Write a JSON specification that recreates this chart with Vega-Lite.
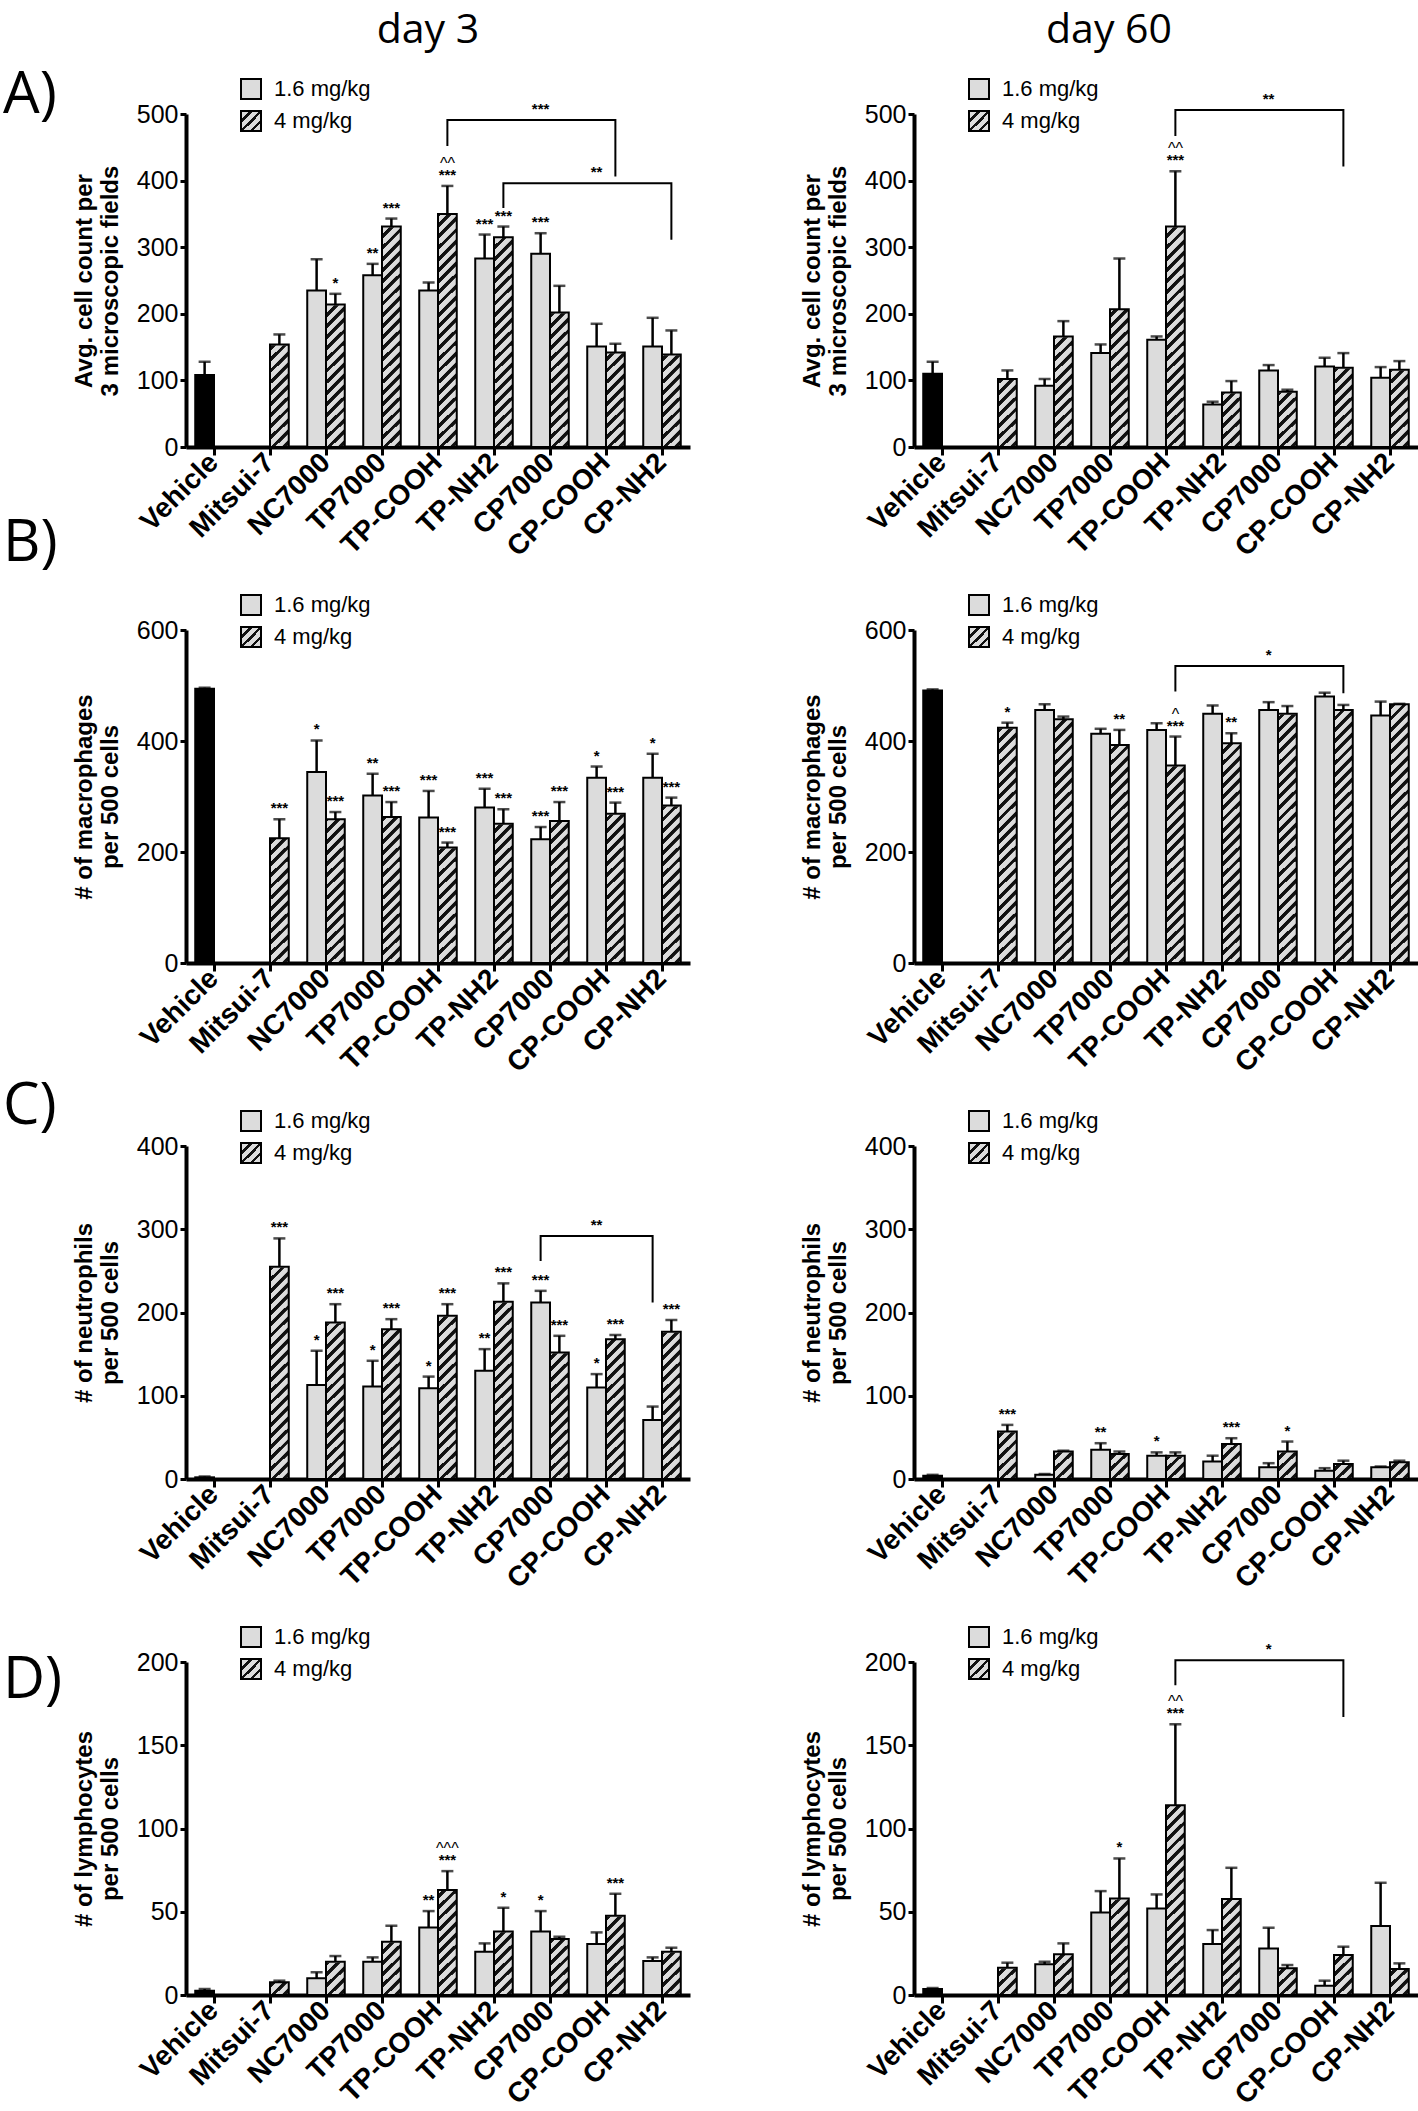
{
"$schema": "https://vega.github.io/schema/vega-lite/v6.json",
"padding": {"left": 3, "top": 10, "right": 0, "bottom": 5},
"params": [
 {"name": "hatchBar", "value": {"gradient": "radial", "x1": -29.5, "y1": -29.5, "r1": 42.0, "x2": -29.5, "y2": -29.5, "r2": 42.85, "stops": [
  {"offset":0,"color":"#111"},{"offset":0.012,"color":"#111"},{"offset":0.012,"color":"#dcdcdc"},
  {"offset":0.028,"color":"#dcdcdc"},{"offset":0.028,"color":"#111"},{"offset":0.04,"color":"#111"},{"offset":0.04,"color":"#dcdcdc"},
  {"offset":0.056,"color":"#dcdcdc"},{"offset":0.056,"color":"#111"},{"offset":0.068,"color":"#111"},{"offset":0.068,"color":"#dcdcdc"},
  {"offset":0.084,"color":"#dcdcdc"},{"offset":0.084,"color":"#111"},{"offset":0.096,"color":"#111"},{"offset":0.096,"color":"#dcdcdc"},
  {"offset":0.112,"color":"#dcdcdc"},{"offset":0.112,"color":"#111"},{"offset":0.124,"color":"#111"},{"offset":0.124,"color":"#dcdcdc"},
  {"offset":0.14,"color":"#dcdcdc"},{"offset":0.14,"color":"#111"},{"offset":0.152,"color":"#111"},{"offset":0.152,"color":"#dcdcdc"},
  {"offset":0.168,"color":"#dcdcdc"},{"offset":0.168,"color":"#111"},{"offset":0.18,"color":"#111"},{"offset":0.18,"color":"#dcdcdc"},
  {"offset":0.196,"color":"#dcdcdc"},{"offset":0.196,"color":"#111"},{"offset":0.208,"color":"#111"},{"offset":0.208,"color":"#dcdcdc"},
  {"offset":0.224,"color":"#dcdcdc"},{"offset":0.224,"color":"#111"},{"offset":0.236,"color":"#111"},{"offset":0.236,"color":"#dcdcdc"},
  {"offset":0.252,"color":"#dcdcdc"},{"offset":0.252,"color":"#111"},{"offset":0.264,"color":"#111"},{"offset":0.264,"color":"#dcdcdc"},
  {"offset":0.28,"color":"#dcdcdc"},{"offset":0.28,"color":"#111"},{"offset":0.292,"color":"#111"},{"offset":0.292,"color":"#dcdcdc"},
  {"offset":0.308,"color":"#dcdcdc"},{"offset":0.308,"color":"#111"},{"offset":0.32,"color":"#111"},{"offset":0.32,"color":"#dcdcdc"},
  {"offset":0.336,"color":"#dcdcdc"},{"offset":0.336,"color":"#111"},{"offset":0.348,"color":"#111"},{"offset":0.348,"color":"#dcdcdc"},
  {"offset":0.364,"color":"#dcdcdc"},{"offset":0.364,"color":"#111"},{"offset":0.376,"color":"#111"},{"offset":0.376,"color":"#dcdcdc"},
  {"offset":0.392,"color":"#dcdcdc"},{"offset":0.392,"color":"#111"},{"offset":0.404,"color":"#111"},{"offset":0.404,"color":"#dcdcdc"},
  {"offset":0.42,"color":"#dcdcdc"},{"offset":0.42,"color":"#111"},{"offset":0.432,"color":"#111"},{"offset":0.432,"color":"#dcdcdc"},
  {"offset":0.448,"color":"#dcdcdc"},{"offset":0.448,"color":"#111"},{"offset":0.46,"color":"#111"},{"offset":0.46,"color":"#dcdcdc"},
  {"offset":0.476,"color":"#dcdcdc"},{"offset":0.476,"color":"#111"},{"offset":0.488,"color":"#111"},{"offset":0.488,"color":"#dcdcdc"},
  {"offset":0.504,"color":"#dcdcdc"},{"offset":0.504,"color":"#111"},{"offset":0.516,"color":"#111"},{"offset":0.516,"color":"#dcdcdc"},
  {"offset":0.532,"color":"#dcdcdc"},{"offset":0.532,"color":"#111"},{"offset":0.544,"color":"#111"},{"offset":0.544,"color":"#dcdcdc"},
  {"offset":0.56,"color":"#dcdcdc"},{"offset":0.56,"color":"#111"},{"offset":0.572,"color":"#111"},{"offset":0.572,"color":"#dcdcdc"},
  {"offset":0.588,"color":"#dcdcdc"},{"offset":0.588,"color":"#111"},{"offset":0.6,"color":"#111"},{"offset":0.6,"color":"#dcdcdc"},
  {"offset":0.616,"color":"#dcdcdc"},{"offset":0.616,"color":"#111"},{"offset":0.628,"color":"#111"},{"offset":0.628,"color":"#dcdcdc"},
  {"offset":0.644,"color":"#dcdcdc"},{"offset":0.644,"color":"#111"},{"offset":0.656,"color":"#111"},{"offset":0.656,"color":"#dcdcdc"},
  {"offset":0.672,"color":"#dcdcdc"},{"offset":0.672,"color":"#111"},{"offset":0.684,"color":"#111"},{"offset":0.684,"color":"#dcdcdc"},
  {"offset":0.7,"color":"#dcdcdc"},{"offset":0.7,"color":"#111"},{"offset":0.712,"color":"#111"},{"offset":0.712,"color":"#dcdcdc"},
  {"offset":0.728,"color":"#dcdcdc"},{"offset":0.728,"color":"#111"},{"offset":0.74,"color":"#111"},{"offset":0.74,"color":"#dcdcdc"},
  {"offset":0.756,"color":"#dcdcdc"},{"offset":0.756,"color":"#111"},{"offset":0.768,"color":"#111"},{"offset":0.768,"color":"#dcdcdc"},
  {"offset":0.784,"color":"#dcdcdc"},{"offset":0.784,"color":"#111"},{"offset":0.796,"color":"#111"},{"offset":0.796,"color":"#dcdcdc"},
  {"offset":0.812,"color":"#dcdcdc"},{"offset":0.812,"color":"#111"},{"offset":0.824,"color":"#111"},{"offset":0.824,"color":"#dcdcdc"},
  {"offset":0.84,"color":"#dcdcdc"},{"offset":0.84,"color":"#111"},{"offset":0.852,"color":"#111"},{"offset":0.852,"color":"#dcdcdc"},
  {"offset":0.868,"color":"#dcdcdc"},{"offset":0.868,"color":"#111"},{"offset":0.88,"color":"#111"},{"offset":0.88,"color":"#dcdcdc"},
  {"offset":0.896,"color":"#dcdcdc"},{"offset":0.896,"color":"#111"},{"offset":0.908,"color":"#111"},{"offset":0.908,"color":"#dcdcdc"},
  {"offset":0.924,"color":"#dcdcdc"},{"offset":0.924,"color":"#111"},{"offset":0.936,"color":"#111"},{"offset":0.936,"color":"#dcdcdc"},
  {"offset":0.952,"color":"#dcdcdc"},{"offset":0.952,"color":"#111"},{"offset":0.964,"color":"#111"},{"offset":0.964,"color":"#dcdcdc"},
  {"offset":0.98,"color":"#dcdcdc"},{"offset":0.98,"color":"#111"},{"offset":0.992,"color":"#111"},{"offset":0.992,"color":"#dcdcdc"}
 ]}},
 {"name": "hatchLegend", "value": {"gradient": "radial", "x1": -29.5, "y1": -29.5, "r1": 41.7, "x2": -29.5, "y2": -29.5, "r2": 43.2, "stops": [
  {"offset":0,"color":"#dcdcdc"},{"offset":0.208,"color":"#dcdcdc"},{"offset":0.208,"color":"#111"},{"offset":0.298,"color":"#111"},{"offset":0.298,"color":"#dcdcdc"},
  {"offset":0.442,"color":"#dcdcdc"},{"offset":0.442,"color":"#111"},{"offset":0.532,"color":"#111"},{"offset":0.532,"color":"#dcdcdc"},
  {"offset":0.675,"color":"#dcdcdc"},{"offset":0.675,"color":"#111"},{"offset":0.765,"color":"#111"},{"offset":0.765,"color":"#dcdcdc"},{"offset":1,"color":"#dcdcdc"}
 ]}}
],
"title": {"text": "A)", "anchor": "start", "frame": "group", "fontSize": 58, "dx": -183, "dy": 115, "offset": 0},
"datasets": {
 "A3": [
  {"cat":"Vehicle","dose":"1.6 mg/kg","v":108,"upper":128},
  {"cat":"Mitsui-7","dose":"4 mg/kg","v":154,"upper":169},
  {"cat":"NC7000","dose":"1.6 mg/kg","v":235,"upper":282},
  {"cat":"NC7000","dose":"4 mg/kg","v":214,"upper":230,"sig":"*"},
  {"cat":"TP7000","dose":"1.6 mg/kg","v":258,"upper":275,"sig":"**"},
  {"cat":"TP7000","dose":"4 mg/kg","v":331,"upper":343,"sig":"***"},
  {"cat":"TP-COOH","dose":"1.6 mg/kg","v":235,"upper":247},
  {"cat":"TP-COOH","dose":"4 mg/kg","v":350,"upper":392,"sig":"***","hat":"^^"},
  {"cat":"TP-NH2","dose":"1.6 mg/kg","v":283,"upper":319,"sig":"***"},
  {"cat":"TP-NH2","dose":"4 mg/kg","v":315,"upper":331,"sig":"***"},
  {"cat":"CP7000","dose":"1.6 mg/kg","v":290,"upper":321,"sig":"***"},
  {"cat":"CP7000","dose":"4 mg/kg","v":202,"upper":242},
  {"cat":"CP-COOH","dose":"1.6 mg/kg","v":151,"upper":185},
  {"cat":"CP-COOH","dose":"4 mg/kg","v":142,"upper":155},
  {"cat":"CP-NH2","dose":"1.6 mg/kg","v":151,"upper":194},
  {"cat":"CP-NH2","dose":"4 mg/kg","v":139,"upper":175}
 ],
 "A60": [
  {"cat":"Vehicle","dose":"1.6 mg/kg","v":110,"upper":128},
  {"cat":"Mitsui-7","dose":"4 mg/kg","v":102,"upper":115},
  {"cat":"NC7000","dose":"1.6 mg/kg","v":92,"upper":102},
  {"cat":"NC7000","dose":"4 mg/kg","v":166,"upper":189},
  {"cat":"TP7000","dose":"1.6 mg/kg","v":141,"upper":154},
  {"cat":"TP7000","dose":"4 mg/kg","v":207,"upper":283},
  {"cat":"TP-COOH","dose":"1.6 mg/kg","v":161,"upper":166},
  {"cat":"TP-COOH","dose":"4 mg/kg","v":331,"upper":414,"sig":"***","hat":"^^"},
  {"cat":"TP-NH2","dose":"1.6 mg/kg","v":64,"upper":68},
  {"cat":"TP-NH2","dose":"4 mg/kg","v":82,"upper":99},
  {"cat":"CP7000","dose":"1.6 mg/kg","v":115,"upper":123},
  {"cat":"CP7000","dose":"4 mg/kg","v":83,"upper":86},
  {"cat":"CP-COOH","dose":"1.6 mg/kg","v":121,"upper":134},
  {"cat":"CP-COOH","dose":"4 mg/kg","v":119,"upper":141},
  {"cat":"CP-NH2","dose":"1.6 mg/kg","v":104,"upper":120},
  {"cat":"CP-NH2","dose":"4 mg/kg","v":116,"upper":129}
 ],
 "B3": [
  {"cat":"Vehicle","dose":"1.6 mg/kg","v":494,"upper":496},
  {"cat":"Mitsui-7","dose":"4 mg/kg","v":225,"upper":259,"sig":"***"},
  {"cat":"NC7000","dose":"1.6 mg/kg","v":344,"upper":401,"sig":"*"},
  {"cat":"NC7000","dose":"4 mg/kg","v":259,"upper":272,"sig":"***"},
  {"cat":"TP7000","dose":"1.6 mg/kg","v":302,"upper":341,"sig":"**"},
  {"cat":"TP7000","dose":"4 mg/kg","v":263,"upper":290,"sig":"***"},
  {"cat":"TP-COOH","dose":"1.6 mg/kg","v":262,"upper":310,"sig":"***"},
  {"cat":"TP-COOH","dose":"4 mg/kg","v":208,"upper":217,"sig":"***"},
  {"cat":"TP-NH2","dose":"1.6 mg/kg","v":280,"upper":314,"sig":"***"},
  {"cat":"TP-NH2","dose":"4 mg/kg","v":251,"upper":277,"sig":"***"},
  {"cat":"CP7000","dose":"1.6 mg/kg","v":223,"upper":245,"sig":"***"},
  {"cat":"CP7000","dose":"4 mg/kg","v":256,"upper":290,"sig":"***"},
  {"cat":"CP-COOH","dose":"1.6 mg/kg","v":334,"upper":354,"sig":"*"},
  {"cat":"CP-COOH","dose":"4 mg/kg","v":269,"upper":289,"sig":"***"},
  {"cat":"CP-NH2","dose":"1.6 mg/kg","v":334,"upper":377,"sig":"*"},
  {"cat":"CP-NH2","dose":"4 mg/kg","v":284,"upper":298,"sig":"***"}
 ],
 "B60": [
  {"cat":"Vehicle","dose":"1.6 mg/kg","v":491,"upper":493},
  {"cat":"Mitsui-7","dose":"4 mg/kg","v":424,"upper":433,"sig":"*"},
  {"cat":"NC7000","dose":"1.6 mg/kg","v":456,"upper":466},
  {"cat":"NC7000","dose":"4 mg/kg","v":439,"upper":444},
  {"cat":"TP7000","dose":"1.6 mg/kg","v":413,"upper":422},
  {"cat":"TP7000","dose":"4 mg/kg","v":393,"upper":420,"sig":"**"},
  {"cat":"TP-COOH","dose":"1.6 mg/kg","v":420,"upper":432},
  {"cat":"TP-COOH","dose":"4 mg/kg","v":356,"upper":408,"sig":"***","hat":"^"},
  {"cat":"TP-NH2","dose":"1.6 mg/kg","v":449,"upper":464},
  {"cat":"TP-NH2","dose":"4 mg/kg","v":396,"upper":414,"sig":"**"},
  {"cat":"CP7000","dose":"1.6 mg/kg","v":456,"upper":470},
  {"cat":"CP7000","dose":"4 mg/kg","v":449,"upper":463},
  {"cat":"CP-COOH","dose":"1.6 mg/kg","v":480,"upper":487},
  {"cat":"CP-COOH","dose":"4 mg/kg","v":456,"upper":465},
  {"cat":"CP-NH2","dose":"1.6 mg/kg","v":446,"upper":471},
  {"cat":"CP-NH2","dose":"4 mg/kg","v":466,"upper":467}
 ],
 "C3": [
  {"cat":"Vehicle","dose":"1.6 mg/kg","v":2,"upper":3},
  {"cat":"Mitsui-7","dose":"4 mg/kg","v":255,"upper":289,"sig":"***"},
  {"cat":"NC7000","dose":"1.6 mg/kg","v":113,"upper":154,"sig":"*"},
  {"cat":"NC7000","dose":"4 mg/kg","v":188,"upper":210,"sig":"***"},
  {"cat":"TP7000","dose":"1.6 mg/kg","v":111,"upper":142,"sig":"*"},
  {"cat":"TP7000","dose":"4 mg/kg","v":180,"upper":192,"sig":"***"},
  {"cat":"TP-COOH","dose":"1.6 mg/kg","v":109,"upper":123,"sig":"*"},
  {"cat":"TP-COOH","dose":"4 mg/kg","v":196,"upper":210,"sig":"***"},
  {"cat":"TP-NH2","dose":"1.6 mg/kg","v":130,"upper":156,"sig":"**"},
  {"cat":"TP-NH2","dose":"4 mg/kg","v":213,"upper":235,"sig":"***"},
  {"cat":"CP7000","dose":"1.6 mg/kg","v":212,"upper":226,"sig":"***"},
  {"cat":"CP7000","dose":"4 mg/kg","v":152,"upper":172,"sig":"***"},
  {"cat":"CP-COOH","dose":"1.6 mg/kg","v":110,"upper":126,"sig":"*"},
  {"cat":"CP-COOH","dose":"4 mg/kg","v":168,"upper":173,"sig":"***"},
  {"cat":"CP-NH2","dose":"1.6 mg/kg","v":71,"upper":87},
  {"cat":"CP-NH2","dose":"4 mg/kg","v":177,"upper":191,"sig":"***"}
 ],
 "C60": [
  {"cat":"Vehicle","dose":"1.6 mg/kg","v":4,"upper":5},
  {"cat":"Mitsui-7","dose":"4 mg/kg","v":57,"upper":65,"sig":"***"},
  {"cat":"NC7000","dose":"1.6 mg/kg","v":5,"upper":6},
  {"cat":"NC7000","dose":"4 mg/kg","v":33,"upper":34},
  {"cat":"TP7000","dose":"1.6 mg/kg","v":35,"upper":43,"sig":"**"},
  {"cat":"TP7000","dose":"4 mg/kg","v":30,"upper":33},
  {"cat":"TP-COOH","dose":"1.6 mg/kg","v":28,"upper":32,"sig":"*"},
  {"cat":"TP-COOH","dose":"4 mg/kg","v":28,"upper":32},
  {"cat":"TP-NH2","dose":"1.6 mg/kg","v":21,"upper":28},
  {"cat":"TP-NH2","dose":"4 mg/kg","v":42,"upper":49,"sig":"***"},
  {"cat":"CP7000","dose":"1.6 mg/kg","v":14,"upper":19},
  {"cat":"CP7000","dose":"4 mg/kg","v":33,"upper":45,"sig":"*"},
  {"cat":"CP-COOH","dose":"1.6 mg/kg","v":10,"upper":13},
  {"cat":"CP-COOH","dose":"4 mg/kg","v":18,"upper":22},
  {"cat":"CP-NH2","dose":"1.6 mg/kg","v":14,"upper":15},
  {"cat":"CP-NH2","dose":"4 mg/kg","v":20,"upper":22}
 ],
 "D3": [
  {"cat":"Vehicle","dose":"1.6 mg/kg","v":2.6,"upper":3.6},
  {"cat":"Mitsui-7","dose":"4 mg/kg","v":7.6,"upper":8.6},
  {"cat":"NC7000","dose":"1.6 mg/kg","v":10,"upper":13.6},
  {"cat":"NC7000","dose":"4 mg/kg","v":20,"upper":23.4},
  {"cat":"TP7000","dose":"1.6 mg/kg","v":20,"upper":22.6},
  {"cat":"TP7000","dose":"4 mg/kg","v":32,"upper":41.6},
  {"cat":"TP-COOH","dose":"1.6 mg/kg","v":40.6,"upper":50.4,"sig":"**"},
  {"cat":"TP-COOH","dose":"4 mg/kg","v":63,"upper":74.4,"sig":"***","hat":"^^^"},
  {"cat":"TP-NH2","dose":"1.6 mg/kg","v":26,"upper":31},
  {"cat":"TP-NH2","dose":"4 mg/kg","v":38.2,"upper":52.4,"sig":"*"},
  {"cat":"CP7000","dose":"1.6 mg/kg","v":38.2,"upper":50.4,"sig":"*"},
  {"cat":"CP7000","dose":"4 mg/kg","v":33.6,"upper":35},
  {"cat":"CP-COOH","dose":"1.6 mg/kg","v":30.6,"upper":37.6},
  {"cat":"CP-COOH","dose":"4 mg/kg","v":47.6,"upper":60.8,"sig":"***"},
  {"cat":"CP-NH2","dose":"1.6 mg/kg","v":20.4,"upper":22.6},
  {"cat":"CP-NH2","dose":"4 mg/kg","v":26,"upper":28.4}
 ],
 "D60": [
  {"cat":"Vehicle","dose":"1.6 mg/kg","v":3.6,"upper":4.2},
  {"cat":"Mitsui-7","dose":"4 mg/kg","v":16.4,"upper":19.4},
  {"cat":"NC7000","dose":"1.6 mg/kg","v":18.4,"upper":20},
  {"cat":"NC7000","dose":"4 mg/kg","v":24.4,"upper":31},
  {"cat":"TP7000","dose":"1.6 mg/kg","v":49.6,"upper":62.4},
  {"cat":"TP7000","dose":"4 mg/kg","v":58,"upper":82,"sig":"*"},
  {"cat":"TP-COOH","dose":"1.6 mg/kg","v":52,"upper":60.4},
  {"cat":"TP-COOH","dose":"4 mg/kg","v":114,"upper":162.6,"sig":"***","hat":"^^"},
  {"cat":"TP-NH2","dose":"1.6 mg/kg","v":30.6,"upper":39},
  {"cat":"TP-NH2","dose":"4 mg/kg","v":57.6,"upper":76.4},
  {"cat":"CP7000","dose":"1.6 mg/kg","v":28,"upper":40.4},
  {"cat":"CP7000","dose":"4 mg/kg","v":16,"upper":18},
  {"cat":"CP-COOH","dose":"1.6 mg/kg","v":5.6,"upper":8.6},
  {"cat":"CP-COOH","dose":"4 mg/kg","v":24,"upper":29},
  {"cat":"CP-NH2","dose":"1.6 mg/kg","v":41.4,"upper":67.4},
  {"cat":"CP-NH2","dose":"4 mg/kg","v":15.6,"upper":19}
 ],
 "A3b": [
  {"id":1,"cat":"TP-COOH","dose":"4 mg/kg","v":452,"ord":1},
  {"id":1,"cat":"TP-COOH","dose":"4 mg/kg","v":491,"ord":2},
  {"id":1,"cat":"CP-COOH","dose":"4 mg/kg","v":491,"ord":3},
  {"id":1,"cat":"CP-COOH","dose":"4 mg/kg","v":406,"ord":4},
  {"id":2,"cat":"TP-NH2","dose":"4 mg/kg","v":359,"ord":1},
  {"id":2,"cat":"TP-NH2","dose":"4 mg/kg","v":396,"ord":2},
  {"id":2,"cat":"CP-NH2","dose":"4 mg/kg","v":396,"ord":3},
  {"id":2,"cat":"CP-NH2","dose":"4 mg/kg","v":311,"ord":4},
  {"cat":"CP7000","dose":"1.6 mg/kg","v":491,"lab":"***"},
  {"cat":"CP-COOH","dose":"1.6 mg/kg","v":396,"lab":"**"}
 ],
 "A60b": [
  {"id":1,"cat":"TP-COOH","dose":"4 mg/kg","v":467,"ord":1},
  {"id":1,"cat":"TP-COOH","dose":"4 mg/kg","v":506,"ord":2},
  {"id":1,"cat":"CP-COOH","dose":"4 mg/kg","v":506,"ord":3},
  {"id":1,"cat":"CP-COOH","dose":"4 mg/kg","v":421,"ord":4},
  {"cat":"CP7000","dose":"1.6 mg/kg","v":506,"lab":"**"}
 ],
 "B60b": [
  {"id":1,"cat":"TP-COOH","dose":"4 mg/kg","v":489,"ord":1},
  {"id":1,"cat":"TP-COOH","dose":"4 mg/kg","v":535,"ord":2},
  {"id":1,"cat":"CP-COOH","dose":"4 mg/kg","v":535,"ord":3},
  {"id":1,"cat":"CP-COOH","dose":"4 mg/kg","v":486,"ord":4},
  {"cat":"CP7000","dose":"1.6 mg/kg","v":535,"lab":"*"}
 ],
 "C3b": [
  {"id":1,"cat":"CP7000","dose":"1.6 mg/kg","v":262,"ord":1},
  {"id":1,"cat":"CP7000","dose":"1.6 mg/kg","v":292,"ord":2},
  {"id":1,"cat":"CP-NH2","dose":"1.6 mg/kg","v":292,"ord":3},
  {"id":1,"cat":"CP-NH2","dose":"1.6 mg/kg","v":212,"ord":4},
  {"cat":"CP-COOH","dose":"1.6 mg/kg","v":292,"lab":"**"}
 ],
 "D60b": [
  {"id":1,"cat":"TP-COOH","dose":"4 mg/kg","v":186,"ord":1},
  {"id":1,"cat":"TP-COOH","dose":"4 mg/kg","v":201,"ord":2},
  {"id":1,"cat":"CP-COOH","dose":"4 mg/kg","v":201,"ord":3},
  {"id":1,"cat":"CP-COOH","dose":"4 mg/kg","v":167,"ord":4},
  {"cat":"CP7000","dose":"1.6 mg/kg","v":201,"lab":"*"}
 ]
},
"columns": 2,
"spacing": {"row": 183, "column": 224},
"bounds": "flush",
"resolve": {"scale": {"fill": "independent"}, "legend": {"fill": "independent"}},
"concat": [
 {
  "title": {"text": "day 3", "fontSize": 41, "offset": 26, "dx": -10, "frame": "group"},
  "width": 504, "height": 333,
  "data": {"name": "A3"},
  "encoding": {
   "x": {"field":"cat","type":"nominal","title":null,"scale":{"domain":["Vehicle","Mitsui-7","NC7000","TP7000","TP-COOH","TP-NH2","CP7000","CP-COOH","CP-NH2"],"paddingInner":0.33,"paddingOuter":0.165}},
   "xOffset": {"field":"dose","type":"nominal","scale":{"domain":["1.6 mg/kg","4 mg/kg"]}},
   "y": {"field":"v","type":"quantitative","scale":{"domain":[0,500],"nice":false},"axis":{"values":[0,100,200,300,400,500],"title":["Avg. cell count per","3 microscopic fields"]}}
  },
  "layer": [
   {"transform":[{"filter":"datum.dose === '4 mg/kg'"}],"mark":{"type":"bar","fill":{"expr":"hatchBar"},"strokeWidth":0},"encoding":{"y":{"datum":0},"y2":{"datum":500}}},
   {"transform":[{"filter":"datum.dose === '4 mg/kg'"}],"mark":{"type":"bar","fill":"white","stroke":"white","strokeWidth":1.5},"encoding":{"y2":{"datum":500}}},
   {"mark":{"type":"bar","stroke":"black","strokeWidth":2},"encoding":{"y2":{"datum":0},"fill":{"field":"dose","type":"nominal","title":null,"scale":{"domain":["1.6 mg/kg","4 mg/kg"],"range":["#dcdcdc",{"expr":"hatchLegend"}]},"legend":{"orient":"none","legendX":54,"legendY":-36},"condition":[{"test":"datum.cat === 'Vehicle'","value":"black"},{"test":"datum.dose === '4 mg/kg'","value":"transparent"}]}}},
   {"mark":{"type":"rule","color":"black","strokeWidth":2.5},"encoding":{"y2":{"field":"upper"}}},
   {"mark":{"type":"tick","color":"black","thickness":2.5,"size":12},"encoding":{"y":{"field":"upper","type":"quantitative"}}},
   {"transform":[{"filter":"isValid(datum.sig)"}],"mark":{"type":"text","baseline":"bottom","dy":-3,"fontSize":15,"fontWeight":"bold"},"encoding":{"y":{"field":"upper","type":"quantitative"},"text":{"field":"sig"}}},
   {"transform":[{"filter":"isValid(datum.hat)"}],"mark":{"type":"text","baseline":"bottom","dy":-14,"fontSize":16},"encoding":{"y":{"field":"upper","type":"quantitative"},"text":{"field":"hat"}}},
   {"data":{"name":"A3b"},"transform":[{"filter":"isValid(datum.ord)"}],"mark":{"type":"line","color":"black","strokeWidth":2},"encoding":{"order":{"field":"ord","type":"quantitative"},"detail":{"field":"id","type":"nominal"}}},
   {"data":{"name":"A3b"},"transform":[{"filter":"isValid(datum.lab)"}],"mark":{"type":"text","baseline":"bottom","dy":-3,"fontSize":15,"fontWeight":"bold"},"encoding":{"text":{"field":"lab"}}}
  ]
 },
 {
  "title": {"text": "day 60", "fontSize": 41, "offset": 26, "dx": -57, "frame": "group"},
  "width": 504, "height": 333,
  "data": {"name": "A60"},
  "encoding": {
   "x": {"field":"cat","type":"nominal","title":null,"scale":{"domain":["Vehicle","Mitsui-7","NC7000","TP7000","TP-COOH","TP-NH2","CP7000","CP-COOH","CP-NH2"],"paddingInner":0.33,"paddingOuter":0.165}},
   "xOffset": {"field":"dose","type":"nominal","scale":{"domain":["1.6 mg/kg","4 mg/kg"]}},
   "y": {"field":"v","type":"quantitative","scale":{"domain":[0,500],"nice":false},"axis":{"values":[0,100,200,300,400,500],"title":["Avg. cell count per","3 microscopic fields"]}}
  },
  "layer": [
   {"transform":[{"filter":"datum.dose === '4 mg/kg'"}],"mark":{"type":"bar","fill":{"expr":"hatchBar"},"strokeWidth":0},"encoding":{"y":{"datum":0},"y2":{"datum":500}}},
   {"transform":[{"filter":"datum.dose === '4 mg/kg'"}],"mark":{"type":"bar","fill":"white","stroke":"white","strokeWidth":1.5},"encoding":{"y2":{"datum":500}}},
   {"mark":{"type":"bar","stroke":"black","strokeWidth":2},"encoding":{"y2":{"datum":0},"fill":{"field":"dose","type":"nominal","title":null,"scale":{"domain":["1.6 mg/kg","4 mg/kg"],"range":["#dcdcdc",{"expr":"hatchLegend"}]},"legend":{"orient":"none","legendX":54,"legendY":-36},"condition":[{"test":"datum.cat === 'Vehicle'","value":"black"},{"test":"datum.dose === '4 mg/kg'","value":"transparent"}]}}},
   {"mark":{"type":"rule","color":"black","strokeWidth":2.5},"encoding":{"y2":{"field":"upper"}}},
   {"mark":{"type":"tick","color":"black","thickness":2.5,"size":12},"encoding":{"y":{"field":"upper","type":"quantitative"}}},
   {"transform":[{"filter":"isValid(datum.sig)"}],"mark":{"type":"text","baseline":"bottom","dy":-3,"fontSize":15,"fontWeight":"bold"},"encoding":{"y":{"field":"upper","type":"quantitative"},"text":{"field":"sig"}}},
   {"transform":[{"filter":"isValid(datum.hat)"}],"mark":{"type":"text","baseline":"bottom","dy":-14,"fontSize":16},"encoding":{"y":{"field":"upper","type":"quantitative"},"text":{"field":"hat"}}},
   {"data":{"name":"A60b"},"transform":[{"filter":"isValid(datum.ord)"}],"mark":{"type":"line","color":"black","strokeWidth":2},"encoding":{"order":{"field":"ord","type":"quantitative"},"detail":{"field":"id","type":"nominal"}}},
   {"data":{"name":"A60b"},"transform":[{"filter":"isValid(datum.lab)"}],"mark":{"type":"text","baseline":"bottom","dy":-3,"fontSize":15,"fontWeight":"bold"},"encoding":{"text":{"field":"lab"}}}
  ]
 },
 {
  "title": {"text": "B)", "anchor": "start", "frame": "group", "fontSize": 58, "dx": -183, "offset": 0, "dy": -21},
  "width": 504, "height": 333,
  "data": {"name": "B3"},
  "encoding": {
   "x": {"field":"cat","type":"nominal","title":null,"scale":{"domain":["Vehicle","Mitsui-7","NC7000","TP7000","TP-COOH","TP-NH2","CP7000","CP-COOH","CP-NH2"],"paddingInner":0.33,"paddingOuter":0.165}},
   "xOffset": {"field":"dose","type":"nominal","scale":{"domain":["1.6 mg/kg","4 mg/kg"]}},
   "y": {"field":"v","type":"quantitative","scale":{"domain":[0,600],"nice":false},"axis":{"values":[0,200,400,600],"title":["# of macrophages","per 500 cells"]}}
  },
  "layer": [
   {"transform":[{"filter":"datum.dose === '4 mg/kg'"}],"mark":{"type":"bar","fill":{"expr":"hatchBar"},"strokeWidth":0},"encoding":{"y":{"datum":0},"y2":{"datum":600}}},
   {"transform":[{"filter":"datum.dose === '4 mg/kg'"}],"mark":{"type":"bar","fill":"white","stroke":"white","strokeWidth":1.5},"encoding":{"y2":{"datum":600}}},
   {"mark":{"type":"bar","stroke":"black","strokeWidth":2},"encoding":{"y2":{"datum":0},"fill":{"field":"dose","type":"nominal","title":null,"scale":{"domain":["1.6 mg/kg","4 mg/kg"],"range":["#dcdcdc",{"expr":"hatchLegend"}]},"legend":{"orient":"none","legendX":54,"legendY":-36},"condition":[{"test":"datum.cat === 'Vehicle'","value":"black"},{"test":"datum.dose === '4 mg/kg'","value":"transparent"}]}}},
   {"mark":{"type":"rule","color":"black","strokeWidth":2.5},"encoding":{"y2":{"field":"upper"}}},
   {"mark":{"type":"tick","color":"black","thickness":2.5,"size":12},"encoding":{"y":{"field":"upper","type":"quantitative"}}},
   {"transform":[{"filter":"isValid(datum.sig)"}],"mark":{"type":"text","baseline":"bottom","dy":-3,"fontSize":15,"fontWeight":"bold"},"encoding":{"y":{"field":"upper","type":"quantitative"},"text":{"field":"sig"}}},
   {"transform":[{"filter":"isValid(datum.hat)"}],"mark":{"type":"text","baseline":"bottom","dy":-14,"fontSize":16},"encoding":{"y":{"field":"upper","type":"quantitative"},"text":{"field":"hat"}}}
  ]
 },
 {
  "width": 504, "height": 333,
  "data": {"name": "B60"},
  "encoding": {
   "x": {"field":"cat","type":"nominal","title":null,"scale":{"domain":["Vehicle","Mitsui-7","NC7000","TP7000","TP-COOH","TP-NH2","CP7000","CP-COOH","CP-NH2"],"paddingInner":0.33,"paddingOuter":0.165}},
   "xOffset": {"field":"dose","type":"nominal","scale":{"domain":["1.6 mg/kg","4 mg/kg"]}},
   "y": {"field":"v","type":"quantitative","scale":{"domain":[0,600],"nice":false},"axis":{"values":[0,200,400,600],"title":["# of macrophages","per 500 cells"]}}
  },
  "layer": [
   {"transform":[{"filter":"datum.dose === '4 mg/kg'"}],"mark":{"type":"bar","fill":{"expr":"hatchBar"},"strokeWidth":0},"encoding":{"y":{"datum":0},"y2":{"datum":600}}},
   {"transform":[{"filter":"datum.dose === '4 mg/kg'"}],"mark":{"type":"bar","fill":"white","stroke":"white","strokeWidth":1.5},"encoding":{"y2":{"datum":600}}},
   {"mark":{"type":"bar","stroke":"black","strokeWidth":2},"encoding":{"y2":{"datum":0},"fill":{"field":"dose","type":"nominal","title":null,"scale":{"domain":["1.6 mg/kg","4 mg/kg"],"range":["#dcdcdc",{"expr":"hatchLegend"}]},"legend":{"orient":"none","legendX":54,"legendY":-36},"condition":[{"test":"datum.cat === 'Vehicle'","value":"black"},{"test":"datum.dose === '4 mg/kg'","value":"transparent"}]}}},
   {"mark":{"type":"rule","color":"black","strokeWidth":2.5},"encoding":{"y2":{"field":"upper"}}},
   {"mark":{"type":"tick","color":"black","thickness":2.5,"size":12},"encoding":{"y":{"field":"upper","type":"quantitative"}}},
   {"transform":[{"filter":"isValid(datum.sig)"}],"mark":{"type":"text","baseline":"bottom","dy":-3,"fontSize":15,"fontWeight":"bold"},"encoding":{"y":{"field":"upper","type":"quantitative"},"text":{"field":"sig"}}},
   {"transform":[{"filter":"isValid(datum.hat)"}],"mark":{"type":"text","baseline":"bottom","dy":-14,"fontSize":16},"encoding":{"y":{"field":"upper","type":"quantitative"},"text":{"field":"hat"}}},
   {"data":{"name":"B60b"},"transform":[{"filter":"isValid(datum.ord)"}],"mark":{"type":"line","color":"black","strokeWidth":2},"encoding":{"order":{"field":"ord","type":"quantitative"},"detail":{"field":"id","type":"nominal"}}},
   {"data":{"name":"B60b"},"transform":[{"filter":"isValid(datum.lab)"}],"mark":{"type":"text","baseline":"bottom","dy":-3,"fontSize":15,"fontWeight":"bold"},"encoding":{"text":{"field":"lab"}}}
  ]
 },
 {
  "title": {"text": "C)", "anchor": "start", "frame": "group", "fontSize": 58, "dx": -183, "offset": 0, "dy": 26},
  "width": 504, "height": 333,
  "data": {"name": "C3"},
  "encoding": {
   "x": {"field":"cat","type":"nominal","title":null,"scale":{"domain":["Vehicle","Mitsui-7","NC7000","TP7000","TP-COOH","TP-NH2","CP7000","CP-COOH","CP-NH2"],"paddingInner":0.33,"paddingOuter":0.165}},
   "xOffset": {"field":"dose","type":"nominal","scale":{"domain":["1.6 mg/kg","4 mg/kg"]}},
   "y": {"field":"v","type":"quantitative","scale":{"domain":[0,400],"nice":false},"axis":{"values":[0,100,200,300,400],"title":["# of neutrophils","per 500 cells"]}}
  },
  "layer": [
   {"transform":[{"filter":"datum.dose === '4 mg/kg'"}],"mark":{"type":"bar","fill":{"expr":"hatchBar"},"strokeWidth":0},"encoding":{"y":{"datum":0},"y2":{"datum":400}}},
   {"transform":[{"filter":"datum.dose === '4 mg/kg'"}],"mark":{"type":"bar","fill":"white","stroke":"white","strokeWidth":1.5},"encoding":{"y2":{"datum":400}}},
   {"mark":{"type":"bar","stroke":"black","strokeWidth":2},"encoding":{"y2":{"datum":0},"fill":{"field":"dose","type":"nominal","title":null,"scale":{"domain":["1.6 mg/kg","4 mg/kg"],"range":["#dcdcdc",{"expr":"hatchLegend"}]},"legend":{"orient":"none","legendX":54,"legendY":-36},"condition":[{"test":"datum.cat === 'Vehicle'","value":"black"},{"test":"datum.dose === '4 mg/kg'","value":"transparent"}]}}},
   {"mark":{"type":"rule","color":"black","strokeWidth":2.5},"encoding":{"y2":{"field":"upper"}}},
   {"mark":{"type":"tick","color":"black","thickness":2.5,"size":12},"encoding":{"y":{"field":"upper","type":"quantitative"}}},
   {"transform":[{"filter":"isValid(datum.sig)"}],"mark":{"type":"text","baseline":"bottom","dy":-3,"fontSize":15,"fontWeight":"bold"},"encoding":{"y":{"field":"upper","type":"quantitative"},"text":{"field":"sig"}}},
   {"transform":[{"filter":"isValid(datum.hat)"}],"mark":{"type":"text","baseline":"bottom","dy":-14,"fontSize":16},"encoding":{"y":{"field":"upper","type":"quantitative"},"text":{"field":"hat"}}},
   {"data":{"name":"C3b"},"transform":[{"filter":"isValid(datum.ord)"}],"mark":{"type":"line","color":"black","strokeWidth":2},"encoding":{"order":{"field":"ord","type":"quantitative"},"detail":{"field":"id","type":"nominal"}}},
   {"data":{"name":"C3b"},"transform":[{"filter":"isValid(datum.lab)"}],"mark":{"type":"text","baseline":"bottom","dy":-3,"fontSize":15,"fontWeight":"bold"},"encoding":{"text":{"field":"lab"}}}
  ]
 },
 {
  "width": 504, "height": 333,
  "data": {"name": "C60"},
  "encoding": {
   "x": {"field":"cat","type":"nominal","title":null,"scale":{"domain":["Vehicle","Mitsui-7","NC7000","TP7000","TP-COOH","TP-NH2","CP7000","CP-COOH","CP-NH2"],"paddingInner":0.33,"paddingOuter":0.165}},
   "xOffset": {"field":"dose","type":"nominal","scale":{"domain":["1.6 mg/kg","4 mg/kg"]}},
   "y": {"field":"v","type":"quantitative","scale":{"domain":[0,400],"nice":false},"axis":{"values":[0,100,200,300,400],"title":["# of neutrophils","per 500 cells"]}}
  },
  "layer": [
   {"transform":[{"filter":"datum.dose === '4 mg/kg'"}],"mark":{"type":"bar","fill":{"expr":"hatchBar"},"strokeWidth":0},"encoding":{"y":{"datum":0},"y2":{"datum":400}}},
   {"transform":[{"filter":"datum.dose === '4 mg/kg'"}],"mark":{"type":"bar","fill":"white","stroke":"white","strokeWidth":1.5},"encoding":{"y2":{"datum":400}}},
   {"mark":{"type":"bar","stroke":"black","strokeWidth":2},"encoding":{"y2":{"datum":0},"fill":{"field":"dose","type":"nominal","title":null,"scale":{"domain":["1.6 mg/kg","4 mg/kg"],"range":["#dcdcdc",{"expr":"hatchLegend"}]},"legend":{"orient":"none","legendX":54,"legendY":-36},"condition":[{"test":"datum.cat === 'Vehicle'","value":"black"},{"test":"datum.dose === '4 mg/kg'","value":"transparent"}]}}},
   {"mark":{"type":"rule","color":"black","strokeWidth":2.5},"encoding":{"y2":{"field":"upper"}}},
   {"mark":{"type":"tick","color":"black","thickness":2.5,"size":12},"encoding":{"y":{"field":"upper","type":"quantitative"}}},
   {"transform":[{"filter":"isValid(datum.sig)"}],"mark":{"type":"text","baseline":"bottom","dy":-3,"fontSize":15,"fontWeight":"bold"},"encoding":{"y":{"field":"upper","type":"quantitative"},"text":{"field":"sig"}}},
   {"transform":[{"filter":"isValid(datum.hat)"}],"mark":{"type":"text","baseline":"bottom","dy":-14,"fontSize":16},"encoding":{"y":{"field":"upper","type":"quantitative"},"text":{"field":"hat"}}}
  ]
 },
 {
  "title": {"text": "D)", "anchor": "start", "frame": "group", "fontSize": 58, "dx": -183, "offset": 0, "dy": 84},
  "width": 504, "height": 333,
  "data": {"name": "D3"},
  "encoding": {
   "x": {"field":"cat","type":"nominal","title":null,"scale":{"domain":["Vehicle","Mitsui-7","NC7000","TP7000","TP-COOH","TP-NH2","CP7000","CP-COOH","CP-NH2"],"paddingInner":0.33,"paddingOuter":0.165}},
   "xOffset": {"field":"dose","type":"nominal","scale":{"domain":["1.6 mg/kg","4 mg/kg"]}},
   "y": {"field":"v","type":"quantitative","scale":{"domain":[0,200],"nice":false},"axis":{"values":[0,50,100,150,200],"title":["# of lymphocytes","per 500 cells"]}}
  },
  "layer": [
   {"transform":[{"filter":"datum.dose === '4 mg/kg'"}],"mark":{"type":"bar","fill":{"expr":"hatchBar"},"strokeWidth":0},"encoding":{"y":{"datum":0},"y2":{"datum":200}}},
   {"transform":[{"filter":"datum.dose === '4 mg/kg'"}],"mark":{"type":"bar","fill":"white","stroke":"white","strokeWidth":1.5},"encoding":{"y2":{"datum":200}}},
   {"mark":{"type":"bar","stroke":"black","strokeWidth":2},"encoding":{"y2":{"datum":0},"fill":{"field":"dose","type":"nominal","title":null,"scale":{"domain":["1.6 mg/kg","4 mg/kg"],"range":["#dcdcdc",{"expr":"hatchLegend"}]},"legend":{"orient":"none","legendX":54,"legendY":-36},"condition":[{"test":"datum.cat === 'Vehicle'","value":"black"},{"test":"datum.dose === '4 mg/kg'","value":"transparent"}]}}},
   {"mark":{"type":"rule","color":"black","strokeWidth":2.5},"encoding":{"y2":{"field":"upper"}}},
   {"mark":{"type":"tick","color":"black","thickness":2.5,"size":12},"encoding":{"y":{"field":"upper","type":"quantitative"}}},
   {"transform":[{"filter":"isValid(datum.sig)"}],"mark":{"type":"text","baseline":"bottom","dy":-3,"fontSize":15,"fontWeight":"bold"},"encoding":{"y":{"field":"upper","type":"quantitative"},"text":{"field":"sig"}}},
   {"transform":[{"filter":"isValid(datum.hat)"}],"mark":{"type":"text","baseline":"bottom","dy":-14,"fontSize":16},"encoding":{"y":{"field":"upper","type":"quantitative"},"text":{"field":"hat"}}}
  ]
 },
 {
  "width": 504, "height": 333,
  "data": {"name": "D60"},
  "encoding": {
   "x": {"field":"cat","type":"nominal","title":null,"scale":{"domain":["Vehicle","Mitsui-7","NC7000","TP7000","TP-COOH","TP-NH2","CP7000","CP-COOH","CP-NH2"],"paddingInner":0.33,"paddingOuter":0.165}},
   "xOffset": {"field":"dose","type":"nominal","scale":{"domain":["1.6 mg/kg","4 mg/kg"]}},
   "y": {"field":"v","type":"quantitative","scale":{"domain":[0,200],"nice":false},"axis":{"values":[0,50,100,150,200],"title":["# of lymphocytes","per 500 cells"]}}
  },
  "layer": [
   {"transform":[{"filter":"datum.dose === '4 mg/kg'"}],"mark":{"type":"bar","fill":{"expr":"hatchBar"},"strokeWidth":0},"encoding":{"y":{"datum":0},"y2":{"datum":200}}},
   {"transform":[{"filter":"datum.dose === '4 mg/kg'"}],"mark":{"type":"bar","fill":"white","stroke":"white","strokeWidth":1.5},"encoding":{"y2":{"datum":200}}},
   {"mark":{"type":"bar","stroke":"black","strokeWidth":2},"encoding":{"y2":{"datum":0},"fill":{"field":"dose","type":"nominal","title":null,"scale":{"domain":["1.6 mg/kg","4 mg/kg"],"range":["#dcdcdc",{"expr":"hatchLegend"}]},"legend":{"orient":"none","legendX":54,"legendY":-36},"condition":[{"test":"datum.cat === 'Vehicle'","value":"black"},{"test":"datum.dose === '4 mg/kg'","value":"transparent"}]}}},
   {"mark":{"type":"rule","color":"black","strokeWidth":2.5},"encoding":{"y2":{"field":"upper"}}},
   {"mark":{"type":"tick","color":"black","thickness":2.5,"size":12},"encoding":{"y":{"field":"upper","type":"quantitative"}}},
   {"transform":[{"filter":"isValid(datum.sig)"}],"mark":{"type":"text","baseline":"bottom","dy":-3,"fontSize":15,"fontWeight":"bold"},"encoding":{"y":{"field":"upper","type":"quantitative"},"text":{"field":"sig"}}},
   {"transform":[{"filter":"isValid(datum.hat)"}],"mark":{"type":"text","baseline":"bottom","dy":-14,"fontSize":16},"encoding":{"y":{"field":"upper","type":"quantitative"},"text":{"field":"hat"}}},
   {"data":{"name":"D60b"},"transform":[{"filter":"isValid(datum.ord)"}],"mark":{"type":"line","color":"black","strokeWidth":2},"encoding":{"order":{"field":"ord","type":"quantitative"},"detail":{"field":"id","type":"nominal"}}},
   {"data":{"name":"D60b"},"transform":[{"filter":"isValid(datum.lab)"}],"mark":{"type":"text","baseline":"bottom","dy":-3,"fontSize":15,"fontWeight":"bold"},"encoding":{"text":{"field":"lab"}}}
  ]
 }
],
"config": {
 "view": {"stroke": null},
 "font": "Liberation Sans",
 "axis": {"grid": false, "domainColor": "black", "tickColor": "black", "labelColor": "black", "titleColor": "black", "labelOverlap": false},
 "axisX": {"domainWidth": 4, "tickWidth": 3, "tickSize": 8, "labelAngle": -45, "labelAlign": "right", "labelBaseline": "middle", "labelFont": "Liberation Sans", "labelFontWeight": "bold", "labelFontSize": 28, "labelPadding": 3, "labelLimit": 0},
 "axisY": {"domainWidth": 4, "tickWidth": 3, "tickSize": 6, "labelFont": "Liberation Sans", "labelFontSize": 25, "labelPadding": 2, "titleFont": "Liberation Sans", "titleFontWeight": "bold", "titleFontSize": 24, "titleLineHeight": 26, "titlePadding": 14, "minExtent": 50, "maxExtent": 50},
 "legend": {"symbolType": "square", "symbolSize": 400, "symbolStrokeColor": "black", "symbolStrokeWidth": 2, "symbolOpacity": 1, "labelFont": "Liberation Sans", "labelFontSize": 22, "labelColor": "black", "labelOffset": 12, "rowPadding": 4, "padding": 0},
 "title": {"font": "Open Sans", "fontWeight": "normal", "color": "black"},
 "text": {"font": "Liberation Sans", "color": "black"}
}
}
